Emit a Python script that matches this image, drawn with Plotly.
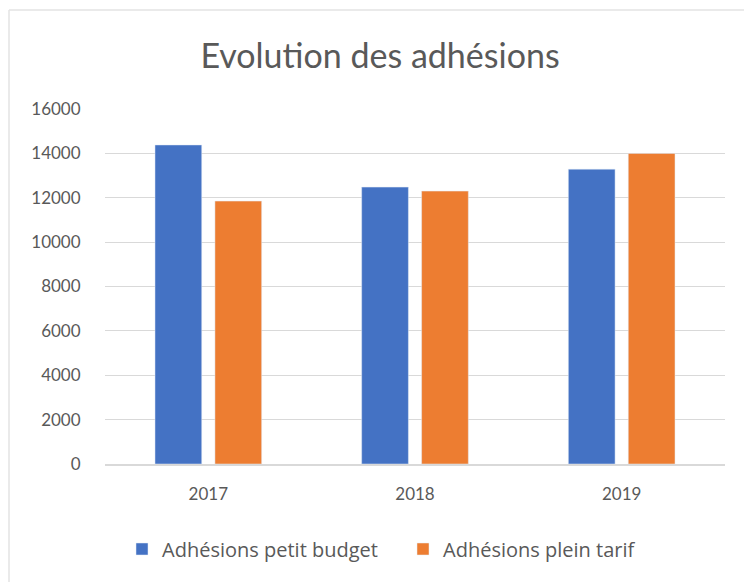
import plotly.graph_objects as go

years = ["2017", "2018", "2019"]
petit_budget = [14380, 12480, 13290]
plein_tarif = [11850, 12300, 14000]
series_names = ["Adhésions petit budget", "Adhésions plein tarif"]
y_ticks = [0, 2000, 4000, 6000, 8000, 10000, 12000, 14000, 16000]

W, H = 744, 582
L, R, T, B = 105, 19, 109, 118
pw, ph = W - L - R, H - T - B

def px_x(p):
    return (p - L) / pw

def px_y(p):
    return (H - B - p) / ph

fig = go.Figure()
fig.add_trace(go.Bar(x=years, y=petit_budget, name=series_names[0], marker_color="#4472C4"))
fig.add_trace(go.Bar(x=years, y=plein_tarif, name=series_names[1], marker_color="#ED7D31"))

grey = "#595959"
fig.update_layout(
    width=W, height=H,
    margin=dict(l=L, r=R, t=T, b=B),
    paper_bgcolor="white", plot_bgcolor="white",
    barmode="group", bargap=0.42, bargroupgap=0.22,
    title=dict(text="Evolution des adhésions", x=380 / W, xanchor="center",
               y=1 - 56 / H, yanchor="middle", yref="container",
               font=dict(family="Lato", size=34, color=grey)),
    showlegend=True,
    legend=dict(orientation="h", x=px_x(403), xanchor="center", y=px_y(549), yanchor="middle",
                font=dict(family="Open Sans", size=20, color=grey), itemwidth=30,
                entrywidth=236, traceorder="normal"),
    xaxis=dict(showgrid=False, showline=True, linecolor="#D9D9D9", linewidth=1.5,
               ticks="outside", ticklen=14, tickcolor="rgba(0,0,0,0)",
               tickfont=dict(family="Lato", size=17, color=grey)),
    yaxis=dict(range=[0, 16000], tickvals=y_ticks, ticktext=[str(v) for v in y_ticks],
               showgrid=True, gridcolor="#D9D9D9",
               gridwidth=1, zeroline=False, showline=False,
               ticks="outside", ticklen=20, tickcolor="rgba(0,0,0,0)",
               tickfont=dict(family="Lato", size=17, color=grey)),
    shapes=[
        dict(type="line", xref="paper", yref="paper", x0=px_x(9), x1=px_x(W + 5),
             y0=px_y(10), y1=px_y(10), line=dict(color="#E3E3E3", width=1.5)),
        dict(type="line", xref="paper", yref="paper", x0=px_x(9), x1=px_x(9),
             y0=px_y(10), y1=px_y(H + 5), line=dict(color="#E3E3E3", width=1.5)),
    ],
)

fig.write_html("out.html", config={"displayModeBar": False},
               post_script="document.body.style.margin='0';document.body.style.overflow='hidden';")
